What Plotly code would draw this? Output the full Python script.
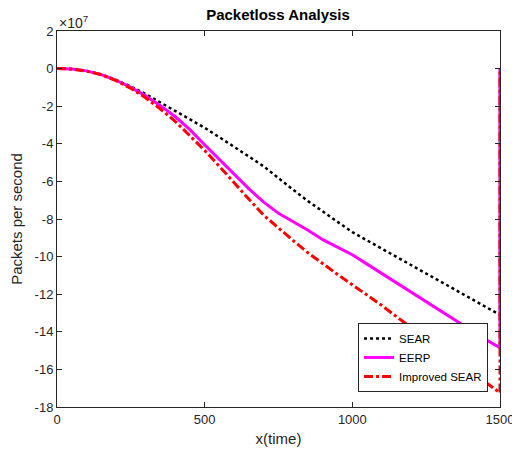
import plotly.graph_objects as go

# time axis (with the closing point at 1500 returning to 0)
x_time = [0, 50, 100, 150, 200, 250, 300, 350, 400, 450, 500, 550, 600, 650, 700, 750,
          800, 850, 900, 950, 1000, 1050, 1100, 1150, 1200, 1250, 1300, 1350, 1400, 1450, 1500, 1500]

# values in units of 1e7 packets per second
sear = [0, -0.02, -0.12, -0.3, -0.6, -0.95, -1.35, -1.8, -2.25, -2.7, -3.15, -3.65, -4.15, -4.68,
        -5.2, -5.8, -6.45, -7.05, -7.6, -8.15, -8.7, -9.14, -9.58, -10.02, -10.46, -10.9,
        -11.34, -11.78, -12.22, -12.66, -13.1, 0]
eerp = [0, -0.02, -0.12, -0.32, -0.62, -1.0, -1.45, -1.97, -2.55, -3.25, -4.05, -4.85, -5.65,
        -6.4, -7.1, -7.7, -8.15, -8.6, -9.1, -9.5, -9.9, -10.4, -10.9, -11.4, -11.9, -12.4,
        -12.9, -13.4, -13.9, -14.4, -14.85, 0]
improved_sear = [0, -0.02, -0.13, -0.33, -0.64, -1.05, -1.55, -2.15, -2.8, -3.55, -4.35, -5.2,
                 -6.1, -6.95, -7.8, -8.5, -9.15, -9.8, -10.4, -10.95, -11.5, -12.05, -12.6,
                 -13.2, -13.8, -14.38, -14.95, -15.5, -16.1, -16.68, -17.25, 0]

x_ticks = [0, 500, 1000, 1500]
y_ticks = [2, 0, -2, -4, -6, -8, -10, -12, -14, -16, -18]

FONT = "Liberation Sans, Arial, sans-serif"
AX = "#262626"

fig = go.Figure()
fig.add_trace(go.Scatter(x=x_time, y=sear, mode="lines", name="SEAR", cliponaxis=False,
                         line=dict(color="black", width=2.5, dash="dot")))
fig.add_trace(go.Scatter(x=x_time, y=eerp, mode="lines", name="EERP", cliponaxis=False,
                         line=dict(color="#ff00ff", width=3)))
fig.add_trace(go.Scatter(x=x_time, y=improved_sear, mode="lines", name="Improved SEAR",
                         cliponaxis=False,
                         line=dict(color="#ff0000", width=3, dash="dashdot")))

fig.update_layout(
    width=512, height=454,
    margin=dict(l=57, r=12, t=31, b=47, autoexpand=False),
    paper_bgcolor="white", plot_bgcolor="white",
    font=dict(family=FONT, color=AX, size=13),
    title=dict(text="<b>Packetloss Analysis</b>", x=0.543, xanchor="center",
               y=0.968, yanchor="middle", font=dict(size=15, color="black")),
    showlegend=True,
    legend=dict(x=0.973, y=0.04, xanchor="right", yanchor="bottom",
                bgcolor="white", bordercolor=AX, borderwidth=1,
                font=dict(size=11.5, color="black"), tracegroupgap=0,
                itemwidth=30),
)
fig.update_xaxes(range=[0, 1500], tickvals=x_ticks, ticktext=[str(v) for v in x_ticks],
                 ticks="inside", ticklen=5, automargin=False, ticklabeloverflow="allow",
                 tickcolor=AX, showline=True, linecolor=AX, linewidth=1, mirror="ticks",
                 showgrid=False, zeroline=False, tickfont=dict(size=13),
                 title=dict(text="x(time)", font=dict(size=15), standoff=7))
fig.update_yaxes(range=[-18, 2], tickvals=y_ticks, ticktext=[str(v) for v in y_ticks],
                 ticks="inside", ticklen=5, automargin=False, ticklabeloverflow="allow",
                 tickcolor=AX, showline=True, linecolor=AX, linewidth=1, mirror="ticks",
                 showgrid=False, zeroline=False, tickfont=dict(size=13),
                 title=dict(text="Packets per second", font=dict(size=15), standoff=8))
fig.add_annotation(text="×10<sup>7</sup>", xref="paper", yref="paper", x=0.0, y=1.0,
                   xanchor="left", yanchor="bottom", showarrow=False,
                   font=dict(size=14, color=AX), yshift=-2)

fig.write_html("out.html", config={"displayModeBar": False},
               post_script="document.body.style.margin='0';document.body.style.overflow='hidden';")
